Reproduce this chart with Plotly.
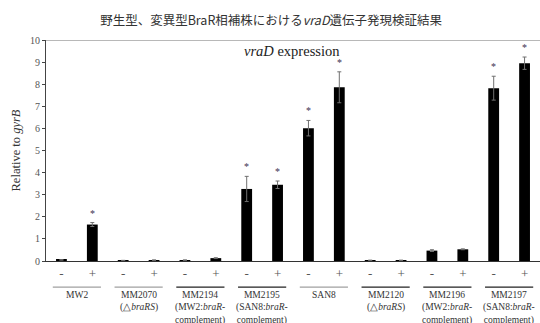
import plotly.graph_objects as go

groups = ["MW2", "MM2070<br>(△<i>braRS</i>)", "MM2194<br>(MW2:<i>braR</i>-<br>complement)",
          "MM2195<br>(SAN8:<i>braR</i>-<br>complement)", "SAN8", "MM2120<br>(△<i>braRS</i>)",
          "MM2196<br>(MW2:<i>braR</i>-<br>complement)", "MM2197<br>(SAN8:<i>braR</i>-<br>complement)"]
group_line_colors = ["#a0a0a0", "#a0a0a0", "#222222", "#222222", "#a0a0a0", "#222222", "#222222", "#222222"]
conditions = ["-", "+"]
values = [0.05, 1.65, 0.02, 0.04, 0.04, 0.13, 3.26, 3.45,
          6.01, 7.86, 0.03, 0.03, 0.47, 0.53, 7.82, 8.95]
errors = [0.01, 0.09, 0.01, 0.01, 0.01, 0.02, 0.57, 0.17,
          0.35, 0.70, 0.01, 0.01, 0.04, 0.02, 0.54, 0.28]
significant = [False, True, False, False, False, False, True, True,
               True, True, False, False, False, False, True, True]
y_ticks = list(range(0, 11))

xs = list(range(len(values)))
tick_text = [conditions[i % 2] for i in xs]

fig = go.Figure()
fig.add_trace(go.Bar(
    x=xs, y=values, width=0.35,
    marker=dict(color="black", line=dict(width=0)),
    error_y=dict(type="data", array=errors, visible=True, color="#707070", thickness=1, width=2),
    hoverinfo="skip", showlegend=False,
))

serif = "Liberation Serif"

for i, (v, e, s) in enumerate(zip(values, errors, significant)):
    if s:
        fig.add_annotation(x=i, y=v + e, yref="y", xref="x", text="*", showarrow=False,
                           yanchor="bottom", yshift=2,
                           font=dict(family=serif, size=10, color="#3a3350"))

for g, (name, lc) in enumerate(zip(groups, group_line_colors)):
    cx = 2 * g + 0.5
    fig.add_shape(type="line", xref="x", yref="paper", x0=cx - 0.78, x1=cx + 0.78,
                  y0=-0.118, y1=-0.118, line=dict(color=lc, width=1.3))
    fig.add_annotation(x=cx, y=-0.122, xref="x", yref="paper", text=name, showarrow=False,
                       yanchor="top", align="center",
                       font=dict(family=serif, size=9.5, color="#333333"))

fig.add_shape(type="line", xref="paper", yref="y", x0=0, x1=1, y0=10, y1=10,
              line=dict(color="#a0a0a0", width=1.5))

fig.add_annotation(x=0.497, y=1.0, xref="paper", yref="paper",
                   text="<i>vraD</i> expression", showarrow=False, yanchor="top", yshift=-1,
                   font=dict(family=serif, size=14.5, color="#222222"))

fig.update_layout(
    width=540, height=323,
    margin=dict(l=46, r=0, t=40, b=62),
    paper_bgcolor="white", plot_bgcolor="white",
    title=dict(text="野生型、変異型BraR相補株における<i>vraD</i>遺伝子発現検証結果",
               x=0.502, xanchor="center", y=0.935, yanchor="middle",
               font=dict(family="Noto Sans CJK JP", size=12.5, color="#333333")),
    xaxis=dict(range=[-0.5, 15.5], tickmode="array", tickvals=xs, ticktext=tick_text,
               showline=True, linecolor="#333333", linewidth=1.2, ticks="",
               showgrid=False, zeroline=False,
               tickfont=dict(family=serif, size=13, color="#555555")),
    yaxis=dict(range=[0, 10], tickmode="array", tickvals=y_ticks,
               showline=True, linecolor="#444444", linewidth=1, ticks="outside",
               ticklen=3, tickcolor="#444444", showgrid=False, zeroline=False,
               tickfont=dict(family=serif, size=10, color="#555555"),
               title=dict(text="Relative to <i>gyrB</i>", standoff=6,
                          font=dict(family=serif, size=12.5, color="#333333"))),
)

fig.write_html("out.html", config={"displayModeBar": False},
               post_script="document.body.style.margin='0';document.body.style.overflow='hidden';")
